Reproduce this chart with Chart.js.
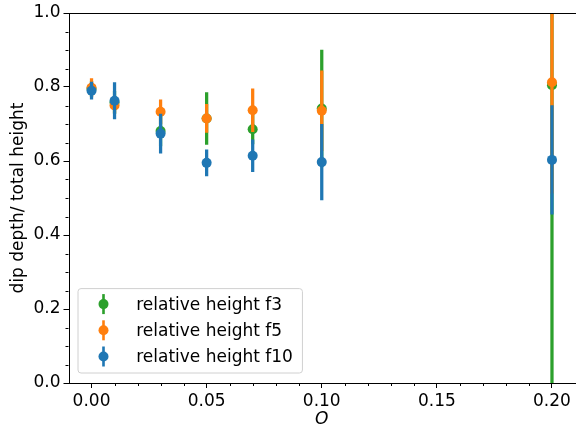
<!DOCTYPE html>
<html><head><meta charset="utf-8">
<script src="https://cdn.jsdelivr.net/npm/chart.js@4/dist/chart.umd.min.js"></script>
<style>html,body{margin:0;padding:0;background:#fff;}#wrap{width:576px;height:427px;position:relative;}</style>
</head><body><div id="wrap"><canvas id="c"></canvas></div>
<script>
const xValues = [0.00, 0.01, 0.03, 0.05, 0.07, 0.10, 0.20];
const f3Values = [0.795, 0.758, 0.681, 0.715, 0.686, 0.742, 0.805];
const f3Errors = [0.020, 0.030, 0.040, 0.070, 0.040, 0.158, 0.900];
const f5Values = [0.798, 0.750, 0.733, 0.715, 0.737, 0.736, 0.813];
const f5Errors = [0.025, 0.020, 0.032, 0.038, 0.058, 0.108, 0.300];
const f10Values = [0.790, 0.763, 0.674, 0.595, 0.614, 0.597, 0.603];
const f10Errors = [0.023, 0.049, 0.053, 0.035, 0.043, 0.102, 0.147];
const seriesLabels = ['relative height f3', 'relative height f5', 'relative height f10'];
const xTickValues = [0.00, 0.05, 0.10, 0.15, 0.20];
const xTickLabels = ['0.00', '0.05', '0.10', '0.15', '0.20'];
const xMinorTicks = [0.01,0.02,0.03,0.04,0.06,0.07,0.08,0.09,0.11,0.12,0.13,0.14,0.16,0.17,0.18,0.19];
const yTickValues = [0.0, 0.2, 0.4, 0.6, 0.8, 1.0];
const yTickLabels = ['0.0', '0.2', '0.4', '0.6', '0.8', '1.0'];
const yMinorTicks = [0.05,0.1,0.15,0.25,0.3,0.35,0.45,0.5,0.55,0.65,0.7,0.75,0.85,0.9,0.95];

const FONT = 'DejaVu Sans';
const colors = ['#2ca02c', '#ff7f0e', '#1f77b4'];
const allValues = [f3Values, f5Values, f10Values];
const allErrors = [f3Errors, f5Errors, f10Errors];

const datasets = [];
allValues.forEach((vals, s) => {
  const errs = allErrors[s];
  datasets.push({
    type: 'bar', label: seriesLabels[s] + ' err', isErr: true,
    data: xValues.map((x, i) => ({x: x, y: [vals[i] - errs[i], vals[i] + errs[i]]})),
    backgroundColor: colors[s], borderWidth: 0, barThickness: 2.6, grouped: false,
    clip: 0, order: 10 - 2 * s
  });
  datasets.push({
    type: 'scatter', label: seriesLabels[s],
    data: xValues.map((x, i) => ({x: x, y: vals[i]})),
    backgroundColor: colors[s], borderColor: colors[s], pointRadius: 5, pointBorderWidth: 0,
    pointHoverRadius: 5, showLine: false, clip: 0, order: 9 - 2 * s
  });
});

const framePlugin = {
  id: 'frame',
  afterDraw(chart) {
    const ctx = chart.ctx, a = chart.chartArea;
    const xs = chart.scales.x, ys = chart.scales.y;
    ctx.save();
    ctx.strokeStyle = '#000'; ctx.lineWidth = 1;
    ctx.beginPath();
    xMinorTicks.forEach(v => { const px = Math.round(xs.getPixelForValue(v)) + 0.5; ctx.moveTo(px, a.bottom); ctx.lineTo(px, a.bottom + 3); });
    yMinorTicks.forEach(v => { const py = Math.round(ys.getPixelForValue(v)) + 0.5; ctx.moveTo(a.left, py); ctx.lineTo(a.left - 3, py); });
    ctx.stroke();
    ctx.strokeRect(Math.round(a.left) + 0.5, Math.round(a.top) + 0.5, Math.round(a.right - a.left), Math.round(a.bottom - a.top));
    // legend
    ctx.font = '17px "' + FONT + '"';
    const entries = chart.data.datasets.filter(d => !d.isErr);
    let maxW = 0;
    entries.forEach(d => { maxW = Math.max(maxW, ctx.measureText(d.label).width); });
    const boxL = a.left + 9, boxB = a.bottom - 10.5, rowH = 26.2;
    const boxH = 84.4, boxT = boxB - boxH;
    const textX = boxL + 58.7;
    const boxW = textX - boxL + maxW + 9;
    ctx.beginPath();
    ctx.roundRect(boxL + 0.5, boxT + 0.5, boxW, boxH, 3);
    ctx.fillStyle = 'rgba(255,255,255,0.8)'; ctx.fill();
    ctx.strokeStyle = '#d0d0d0'; ctx.lineWidth = 1; ctx.stroke();
    entries.forEach((d, i) => {
      const cy = boxT + 16 + i * rowH;
      const mx = boxL + 26;
      ctx.fillStyle = d.backgroundColor;
      ctx.fillRect(mx - 1.3, cy - 10, 2.6, 20);
      ctx.beginPath(); ctx.arc(mx, cy, 5, 0, Math.PI * 2); ctx.fill();
      ctx.fillStyle = '#000'; ctx.textAlign = 'left'; ctx.textBaseline = 'middle';
      ctx.fillText(d.label, textX, cy + 1);
    });
    ctx.restore();
  }
};

new Chart(document.getElementById('c'), {
  type: 'scatter',
  data: {datasets: datasets},
  plugins: [framePlugin],
  options: {
    responsive: true, maintainAspectRatio: false, animation: false, events: [],
    layout: {autoPadding: false, padding: {top: 13, right: 1, left: 0, bottom: 0}},
    plugins: {legend: {display: false}, tooltip: {enabled: false}},
    scales: {
      x: {
        type: 'linear', min: -0.01, max: 0.21, offset: false,
        afterBuildTicks: s => { s.ticks = xTickValues.map(v => ({value: v})); },
        afterFit: s => { s.height = 44; s.paddingRight = 0; s.paddingLeft = 0; },
        ticks: {callback: (v, i) => xTickLabels[i], font: {family: FONT, size: 17}, color: '#000', padding: 3, maxRotation: 0, autoSkip: false},
        grid: {display: true, drawOnChartArea: false, tickLength: 5, tickColor: '#000', tickWidth: 1, offset: false},
        border: {display: false},
        title: {display: true, text: 'O', color: '#000', font: {family: FONT, size: 17, style: 'italic', lineHeight: 1}, padding: {top: 0, bottom: -1}}
      },
      y: {
        type: 'linear', min: 0, max: 1,
        afterBuildTicks: s => { s.ticks = yTickValues.map(v => ({value: v})); },
        afterFit: s => { s.width = 68.5; s.paddingTop = 0; s.paddingBottom = 0; },
        ticks: {callback: (v, i) => yTickLabels[i], font: {family: FONT, size: 17}, color: '#000', padding: 3, autoSkip: false},
        grid: {display: true, drawOnChartArea: false, tickLength: 5, tickColor: '#000', tickWidth: 1},
        border: {display: false},
        title: {display: true, text: 'dip depth/ total height', color: '#000', font: {family: FONT, size: 17, lineHeight: 1}, padding: {top: 10, bottom: 0}}
      }
    }
  }
});
</script>
</body></html>
